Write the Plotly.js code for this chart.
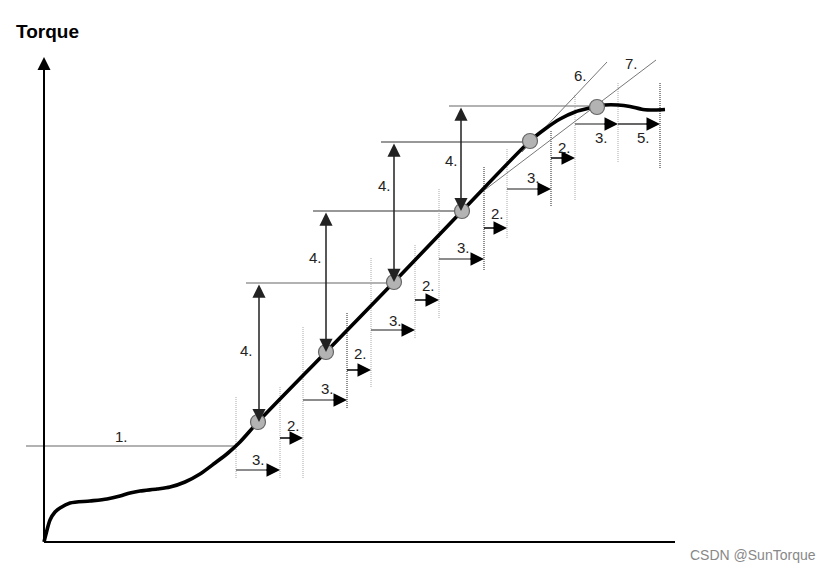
<!DOCTYPE html>
<html>
<head>
<meta charset="utf-8">
<script src="https://cdn.plot.ly/plotly-3.0.1.min.js"></script>
<style>html,body{margin:0;padding:0;background:#fff;}#chart{width:833px;height:572px;}</style>
</head>
<body>
<div id="chart"></div>
<script>
// Torque curve (schematic units: x = angle/time, y = torque)
const curveX = [0, 2, 6, 11, 16, 26, 46, 63, 76, 86, 96, 113, 126, 141, 156, 171, 184, 196, 214, 282, 350, 418, 486, 501, 516, 531, 546, 561, 574, 586, 599, 611, 621];
const curveY = [0, 8, 22, 30, 34, 39, 41, 43, 46, 49, 51, 53, 55, 60, 68, 79, 89, 100, 120, 190, 260, 331, 401, 413, 423, 430, 434, 437, 437, 435.5, 432.5, 432, 432.5];

// sample points (circles)
const pointX = [214, 282, 350, 418, 486, 553];
const pointY = [120, 190, 260, 331, 401, 435];

// dotted step boundaries
const gridX = [192, 236, 259, 303, 327, 371, 395, 440, 463, 507, 531, 574, 616];
const gridTop = [145, 155, 215, 229, 284, 298, 354, 375, 394, 412, 447, 460, 460];
const gridBottom = [64, 64, 64, 134, 155, 204, 224, 272, 304, 336, 342, 380, 374];
const gridDark = [0, 0, 0, 1, 0, 0, 0, 1, 0, 1, 0, 0, 1];

// "3." step arrows
const step3From = [192, 259, 327, 395, 463, 531];
const step3To = [236, 303, 371, 440, 507, 574];
const step3Y = [72, 142, 212, 283, 353, 418];
// "2." step arrows
const step2From = [236, 303, 371, 440, 507];
const step2To = [259, 327, 395, 463, 531];
const step2Y = [104, 172, 242, 314, 384];
// "5." arrow
const step5From = [574];
const step5To = [616];
const step5Y = [418];

// "4." rise arrows
const riseX = [215, 282, 350, 417];
const riseTop = [259, 331, 400, 436];
const riseBottom = [120, 190, 260, 331];

// horizontal torque levels
const levelX0 = [-18, 202, 269, 337, 405];
const levelX1 = [193, 350, 418, 486, 553];
const levelY = [96, 259, 331, 400, 436];
const levelDark = [0, 0, 1, 1, 0];

// tangent lines 6. and 7.
const tangentX0 = [478, 434];
const tangentY0 = [390, 347];
const tangentX1 = [563, 612];
const tangentY1 = [480, 482];

// labels
const labelText = ["1.", "3.", "3.", "3.", "3.", "3.", "3.", "2.", "2.", "2.", "2.", "2.", "4.", "4.", "4.", "4.", "5.", "6.", "7."];
const labelX = [77, 214, 283, 351, 419, 489, 557, 249, 316, 384, 453, 520, 202, 271, 340, 407, 599, 536, 587];
const labelY = [106, 83, 154, 222, 295, 365, 405, 117, 189, 257, 329, 395, 192, 285, 357, 382, 405, 467, 479];

const FONT = "Liberation Sans, Arial, sans-serif";
const shapes = [];
const annotations = [];

// axes
shapes.push({type: 'line', xref: 'x', yref: 'y', x0: 0, y0: 0, x1: 631, y1: 0, line: {color: '#000', width: 2}, layer: 'below'});
annotations.push({xref: 'x', yref: 'y', axref: 'x', ayref: 'y', x: 0, y: 485, ax: 0, ay: 0, text: '', showarrow: true, arrowhead: 2, arrowsize: 1.3, arrowwidth: 2, arrowcolor: '#000', standoff: 0});

// level lines
for (let i = 0; i < levelY.length; i++) {
  shapes.push({type: 'line', xref: 'x', yref: 'y', x0: levelX0[i], y0: levelY[i], x1: levelX1[i], y1: levelY[i],
    line: {color: levelDark[i] ? '#333' : '#999', width: levelDark[i] ? 1.2 : 1.6}, layer: 'below'});
}
// dotted verticals
for (let i = 0; i < gridX.length; i++) {
  shapes.push({type: 'line', xref: 'x', yref: 'y', x0: gridX[i], y0: gridBottom[i], x1: gridX[i], y1: gridTop[i],
    line: {color: gridDark[i] ? '#222' : '#aaa', width: 1, dash: '1px,1px'}, layer: 'below'});
}
// tangents
for (let i = 0; i < tangentX0.length; i++) {
  shapes.push({type: 'line', xref: 'x', yref: 'y', x0: tangentX0[i], y0: tangentY0[i], x1: tangentX1[i], y1: tangentY1[i],
    line: {color: '#777', width: 1}, layer: 'below'});
}

function stepArrow(x0, x1, y, lineColor) {
  shapes.push({type: 'line', xref: 'x', yref: 'y', x0: x0, y0: y, x1: x1 - 6, y1: y, line: {color: lineColor, width: 1.5}, layer: 'below'});
  annotations.push({xref: 'x', yref: 'y', axref: 'x', ayref: 'y', x: x1, y: y, ax: x1 - 15, ay: y, text: '', showarrow: true,
    arrowhead: 2, arrowsize: 1.8, arrowwidth: 1.5, arrowcolor: '#000', standoff: 0});
}
for (let i = 0; i < step3From.length; i++) stepArrow(step3From[i], step3To[i], step3Y[i], '#666');
for (let i = 0; i < step2From.length; i++) stepArrow(step2From[i], step2To[i], step2Y[i], '#000');
for (let i = 0; i < step5From.length; i++) stepArrow(step5From[i], step5To[i], step5Y[i], '#333');

// rise arrows
for (let i = 0; i < riseX.length; i++) {
  annotations.push({xref: 'x', yref: 'y', axref: 'x', ayref: 'y', x: riseX[i], y: riseBottom[i], ax: riseX[i], ay: riseTop[i], text: '',
    showarrow: true, arrowhead: 2, startarrowhead: 2, arrowside: 'end+start', arrowsize: 1.75, startarrowsize: 1.75,
    arrowwidth: 1.5, arrowcolor: '#222', standoff: 0, startstandoff: 0});
}

// labels
for (let i = 0; i < labelText.length; i++) {
  annotations.push({xref: 'x', yref: 'y', x: labelX[i], y: labelY[i], text: labelText[i], showarrow: false,
    xanchor: 'center', yanchor: 'middle', font: {family: FONT, size: 15, color: '#222'}});
}
// title and watermark
annotations.push({xref: 'x', yref: 'y', x: -30, y: 511, text: '<b>Torque</b>', showarrow: false, xanchor: 'left', yanchor: 'middle',
  font: {family: FONT, size: 19, color: '#000'}});
annotations.push({xref: 'paper', yref: 'paper', x: 0.982, y: 0.03, text: 'CSDN @SunTorque', showarrow: false, xanchor: 'right', yanchor: 'middle',
  font: {family: FONT, size: 14, color: '#888'}});

const traces = [
  {x: curveX, y: curveY, type: 'scatter', mode: 'lines', line: {color: '#000', width: 3.6, shape: 'spline', smoothing: 0.8}, hoverinfo: 'skip'},
  {x: pointX, y: pointY, type: 'scatter', mode: 'markers', marker: {size: 15, color: '#b3b3b3', line: {color: '#666', width: 1.2}}, hoverinfo: 'skip'}
];

const layout = {
  width: 833, height: 572,
  margin: {l: 0, r: 0, t: 0, b: 0},
  paper_bgcolor: '#fff', plot_bgcolor: '#fff',
  showlegend: false,
  xaxis: {range: [-44, 789], visible: false, fixedrange: true},
  yaxis: {range: [-30, 542], visible: false, fixedrange: true},
  shapes: shapes,
  annotations: annotations
};

Plotly.newPlot('chart', traces, layout, {displayModeBar: false, staticPlot: true});
</script>
</body>
</html>
